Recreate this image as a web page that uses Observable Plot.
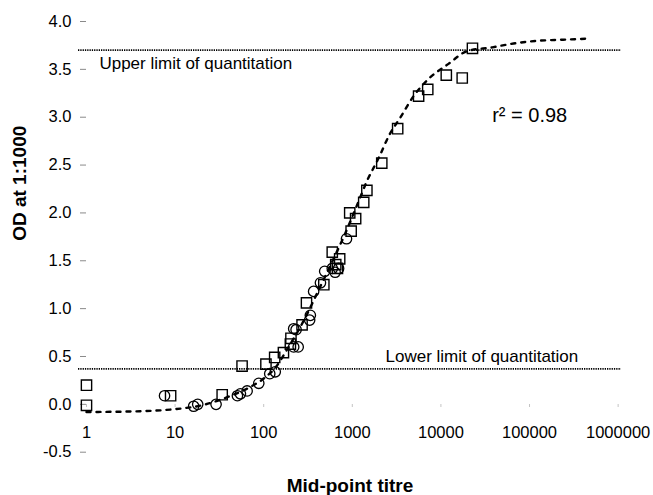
<!DOCTYPE html>
<html>
<head>
<meta charset="utf-8">
<script src="https://cdn.jsdelivr.net/npm/d3@7"></script>
<script src="https://cdn.jsdelivr.net/npm/@observablehq/plot@0.6"></script>
<style>
  html, body { margin: 0; padding: 0; background: #fff; }
  #chart { width: 653px; height: 495px; }
</style>
</head>
<body>
<div id="chart"></div>
<script>
// ---- data ----
const squareTitre = [1, 1, 8.9, 34, 57, 106, 133, 167, 200, 203, 271, 304, 477, 594, 650, 720, 680, 935, 1090, 970, 1345, 1460, 2150, 3250, 5600, 7100, 11500, 17400, 22700];
const squareOD    = [0.20, -0.01, 0.09, 0.10, 0.40, 0.42, 0.49, 0.54, 0.63, 0.69, 0.83, 1.06, 1.25, 1.59, 1.46, 1.52, 1.42, 2.00, 1.94, 1.81, 2.11, 2.235, 2.52, 2.88, 3.22, 3.29, 3.44, 3.41, 3.72];

const circleTitre = [7.6, 16.2, 18, 29, 50.5, 54.6, 65, 88, 117, 135, 218, 245, 218, 232, 330, 336, 366, 437, 488, 594, 700, 640, 860];
const circleOD    = [0.09, -0.02, 0.00, 0.00, 0.09, 0.11, 0.14, 0.22, 0.32, 0.34, 0.60, 0.60, 0.79, 0.78, 0.88, 0.93, 1.18, 1.27, 1.39, 1.42, 1.42, 1.38, 1.73];

const fitTitre = [1, 3, 10, 20, 40, 70, 100, 140, 180, 300, 400, 600, 800, 1130, 1475, 2000, 2600, 3500, 5000, 7250, 12300, 19700, 38000, 66000, 131000, 240000, 450000];
const fitOD    = [-0.08, -0.075, -0.05, -0.01, 0.08, 0.18, 0.27, 0.40, 0.56, 0.92, 1.16, 1.50, 1.75, 2.08, 2.34, 2.58, 2.81, 3.00, 3.23, 3.40, 3.56, 3.69, 3.73, 3.77, 3.80, 3.81, 3.82];

const limitOD = [3.7, 0.37];
const limitLabels = ["Upper limit of quantitation", "Lower limit of quantitation"];
const r2Label = "r\u00B2 = 0.98";

const xTicks = [1, 10, 100, 1000, 10000, 100000, 1000000];
const yTicks = [-0.5, 0, 0.5, 1.0, 1.5, 2.0, 2.5, 3.0, 3.5, 4.0];

// ---- tables ----
const squares = squareTitre.map((t, i) => ({titre: t, od: squareOD[i]}));
const circles = circleTitre.map((t, i) => ({titre: t, od: circleOD[i]}));
const fit = fitTitre.map((t, i) => ({titre: t, od: fitOD[i]}));

const FONT = "'Liberation Sans', Arial, Helvetica, sans-serif";

const chart = Plot.plot({
  width: 653,
  height: 495,
  marginTop: 21,
  marginBottom: 43.3,
  marginLeft: 78,
  marginRight: 32,
  style: {fontFamily: FONT, fontSize: "16.5px", color: "#000", background: "#fff"},
  x: {type: "log", domain: [0.8125, 1.0916e6], label: null},
  y: {domain: [-0.5, 4.0], label: null},
  marks: [
    Plot.axisY(yTicks, {
      anchor: "left", tickSize: 6, tickPadding: 9, dx: 8,
      stroke: "#8a8a8a", tickFormat: d => d.toFixed(1), fontSize: 16.5, label: null
    }),
    Plot.axisX(xTicks, {
      anchor: "bottom", tickSize: 3, tickPadding: 19, dy: -47.7,
      stroke: "#c4c4c4", tickFormat: d => String(d), fontSize: 16.5, label: null
    }),
    // limits of quantitation
    Plot.ruleY(limitOD, {y: d => d, stroke: "#000", strokeWidth: 1.8, strokeDasharray: "1.3,1"}),
    Plot.text([limitLabels[0]], {x: 1.40, y: 3.505, text: d => d, textAnchor: "start", lineAnchor: "bottom", fontSize: 17}),
    Plot.text([limitLabels[1]], {x: 2370, y: 0.443, text: d => d, textAnchor: "start", lineAnchor: "bottom", fontSize: 17}),
    Plot.text([r2Label], {x: 37900, y: 2.95, text: d => d, textAnchor: "start", lineAnchor: "bottom", fontSize: 20}),
    // fitted curve
    Plot.line(fit, {x: "titre", y: "od", curve: "monotone-x", stroke: "#000", strokeWidth: 2.4, strokeDasharray: "4,6"}),
    // data
    Plot.dot(circles, {x: "titre", y: "od", symbol: "circle", r: 5.2, stroke: "#000", strokeWidth: 1.3, fill: "none"}),
    Plot.dot(squares, {x: "titre", y: "od", symbol: "square", r: 5.8, stroke: "#000", strokeWidth: 1.4, fill: "none"}),
    // axis titles
    Plot.text(["Mid-point titre"], {frameAnchor: "bottom", dy: 40, text: d => d, fontWeight: "bold", fontSize: 19, lineAnchor: "bottom"}),
    Plot.text(["OD at 1:1000"], {frameAnchor: "left", dx: -59, dy: 4, rotate: -90, text: d => d, fontWeight: "bold", fontSize: 19})
  ]
});

document.getElementById("chart").appendChild(chart);
</script>
</body>
</html>
